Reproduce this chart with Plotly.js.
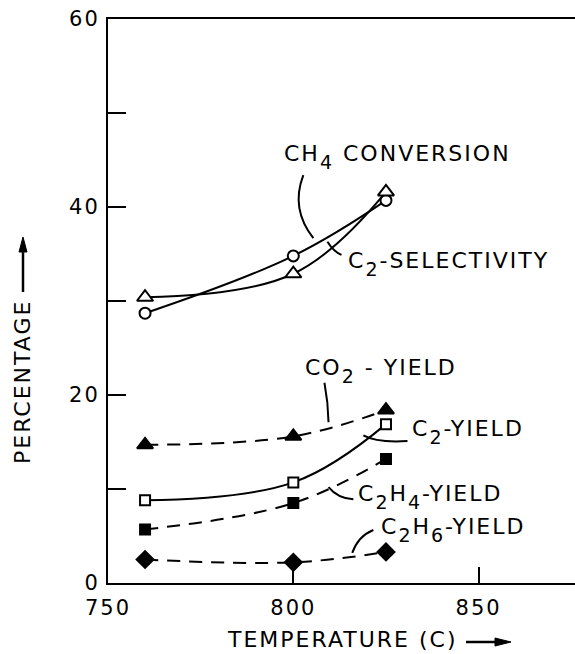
<!DOCTYPE html>
<html>
<head>
<meta charset="utf-8">
<script src="https://cdn.plot.ly/plotly-3.0.1.min.js"></script>
<style>
html,body{margin:0;padding:0;background:#fff;}
svg text{letter-spacing:2px;}
</style>
</head>
<body>
<div id="chart" style="width:575px;height:654px;"></div>
<script>
// Data
const temperature = [760, 800, 825];
const ch4Conversion = [28.7, 34.8, 40.7];
const c2Selectivity = [30.4, 32.9, 41.6];
const co2Yield = [14.7, 15.6, 18.4];
const c2Yield = [8.8, 10.7, 16.9];
const c2h4Yield = [5.7, 8.5, 13.2];
const c2h6Yield = [2.5, 2.2, 3.3];

const xTicks = [750, 800, 850];
const yTicks = [0, 10, 20, 30, 40, 50, 60];
const yTickText = ['0', '', '20', '', '40', '', '60'];

const FONT = 'DejaVu Sans, Arial, sans-serif';
const K = '#000';
const SUB = s => '<sub><span style="font-size:19px;baseline-shift:-3px">' + s + '</span></sub>';

// plot-area geometry (pixels) used for paper-coordinate decorations
const ML = 108, MT = 19, MB = 71, W = 575, H = 654;
const PW = W - ML, PH = H - MT - MB;
const px = p => (p - ML) / PW;
const py = p => (H - MB - p) / PH;

function tr(y, sym, size, filled, dash) {
  return {
    x: temperature, y: y, type: 'scatter', mode: 'lines+markers',
    line: {color: K, width: 2, shape: 'spline', smoothing: 1.1, dash: dash || 'solid'},
    marker: {symbol: sym, size: size, color: filled ? K : '#fff', line: {color: K, width: 2}},
    showlegend: false, hoverinfo: 'skip'
  };
}

const data = [
  tr(ch4Conversion, 'circle', 11, false),
  tr(c2Selectivity, 'triangle-up', 14, false),
  tr(co2Yield, 'triangle-up', 14, true, '13px,9px'),
  tr(c2Yield, 'square', 10, false),
  tr(c2h4Yield, 'square', 10, true, '13px,9px'),
  tr(c2h6Yield, 'diamond', 13, true, '13px,9px')
];

function lab(text, x, y) {
  return {text: text, x: x, y: y, xref: 'x', yref: 'y', xanchor: 'left', yanchor: 'middle',
          showarrow: false, font: {family: FONT, size: 22, color: K}};
}

function leader(path) {
  return {type: 'path', xref: 'x', yref: 'y', path: path, line: {color: K, width: 2}};
}

function pline(x0, y0, x1, y1) {
  return {type: 'line', xref: 'paper', yref: 'paper', x0: px(x0), y0: py(y0), x1: px(x1), y1: py(y1),
          line: {color: K, width: 2.5}};
}
function ppath(pts) {
  let d = 'M ' + pts.map(p => px(p[0]) + ',' + py(p[1])).join(' L ') + ' Z';
  return {type: 'path', xref: 'paper', yref: 'paper', path: d, fillcolor: K, line: {color: K, width: 1}};
}

const layout = {
  width: W, height: H,
  margin: {l: ML, r: 0, t: MT, b: MB},
  paper_bgcolor: '#fff', plot_bgcolor: '#fff',
  font: {family: FONT, size: 22, color: K},
  xaxis: {
    range: [750, 876], tickmode: 'array', tickvals: xTicks,
    ticks: 'inside', ticklen: 16, tickwidth: 2, tickcolor: K,
    showline: true, linewidth: 2, linecolor: K, mirror: true,
    showgrid: false, zeroline: false, tickfont: {family: FONT, size: 21, color: K},
    ticklabelstandoff: 5
  },
  yaxis: {
    range: [0, 60], tickmode: 'array', tickvals: yTicks, ticktext: yTickText,
    ticks: 'inside', ticklen: 18, tickwidth: 2, tickcolor: K,
    showline: true, linewidth: 2, linecolor: K,
    showgrid: false, zeroline: false, tickfont: {family: FONT, size: 21, color: K},
    ticklabelstandoff: 2
  },
  annotations: [
    lab('CH' + SUB('4') + ' CONVERSION', 797.0, 45.3),
    lab('C' + SUB('2') + '-SELECTIVITY', 814.3, 33.9),
    lab('CO' + SUB('2') + ' - YIELD', 802.7, 22.6),
    lab('C' + SUB('2') + '-YIELD', 831.6, 16.1),
    lab('C' + SUB('2') + 'H' + SUB('4') + '-YIELD', 816.8, 9.1),
    lab('C' + SUB('2') + 'H' + SUB('6') + '-YIELD', 823.0, 5.6),
    {text: 'PERCENTAGE', xref: 'paper', yref: 'paper', x: px(22), y: py(382),
     xanchor: 'center', yanchor: 'middle', textangle: -90, showarrow: false,
     font: {family: FONT, size: 22, color: K}},
    {text: 'TEMPERATURE (C)', xref: 'paper', yref: 'paper', x: px(225), y: py(640),
     xanchor: 'left', yanchor: 'middle', showarrow: false, font: {family: FONT, size: 22, color: K}}
  ],
  shapes: [
    leader('M 802.7,43.4 Q 799.2,39.8 805.4,36.7'),
    leader('M 809.2,36.3 Q 811,35.2 813.0,34.9'),
    leader('M 808.4,21.3 Q 809.4,19.2 809.5,17.1'),
    leader('M 818.9,15.7 Q 822.5,14.9 830.8,15.1'),
    leader('M 809.5,10.2 Q 812,9.0 816.2,8.9'),
    leader('M 815.9,3.2 Q 817.5,5.0 821.6,5.64'),
    pline(23, 292, 23, 248),
    ppath([[23, 237], [19, 252], [27, 252]]),
    pline(466, 642, 498, 642),
    ppath([[511, 642], [495, 638], [495, 646]])
  ]
};

Plotly.newPlot('chart', data, layout, {displayModeBar: false, staticPlot: true});
</script>
</body>
</html>
